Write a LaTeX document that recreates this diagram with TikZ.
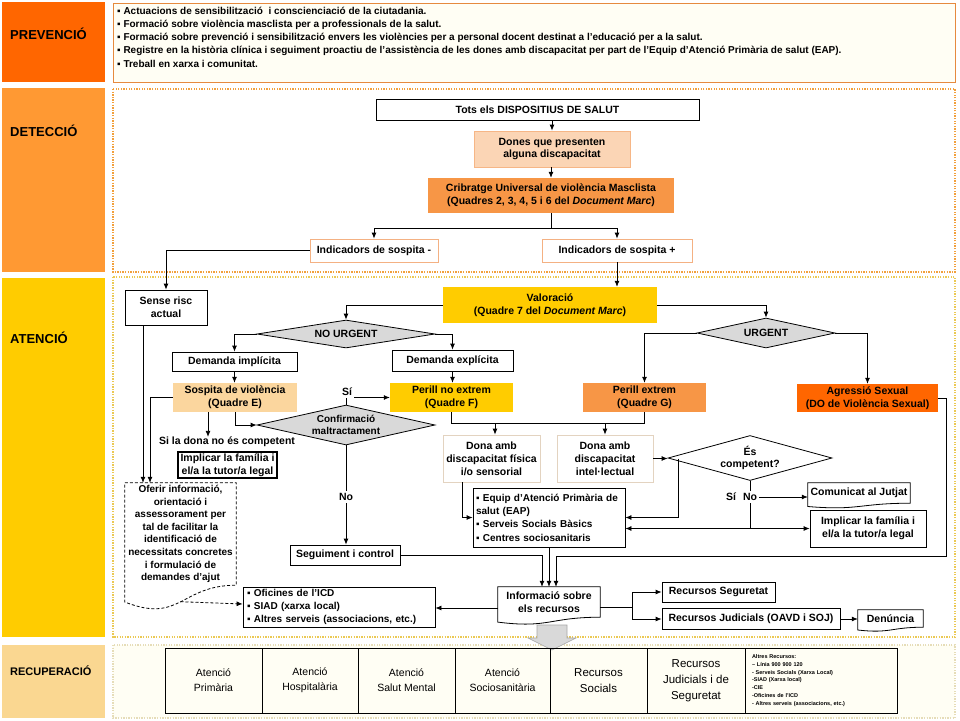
\documentclass[tikz,border=0pt]{standalone}
\usepackage{fontspec}
\setmainfont{Liberation Sans}
\usetikzlibrary{arrows.meta,shapes.geometric,calc}
\definecolor{cPrev}{HTML}{FF6600}
\definecolor{cDet}{HTML}{FF9933}
\definecolor{cAte}{HTML}{FFCC00}
\definecolor{cRec}{HTML}{FAD791}
\definecolor{cPrevB}{HTML}{E68A3E}
\definecolor{cDetB}{HTML}{F2A03C}
\definecolor{cAteB}{HTML}{EBC954}
\definecolor{cRecB}{HTML}{E6DDB8}
\definecolor{cDones}{HTML}{FBD5B5}
\definecolor{cDonesB}{HTML}{F6B686}
\definecolor{cCrib}{HTML}{F79646}
\definecolor{cInd}{HTML}{F4B183}
\definecolor{cSosp}{HTML}{FBD69E}
\definecolor{cTan}{HTML}{E3D3C0}
\definecolor{cGrey}{HTML}{D9D9D9}
\definecolor{cCream}{HTML}{FFFEF4}
\newcommand\docshp[4]{%
  \draw[#1] (#2.north west) -- (#2.north east) -- (#2.south east)
   .. controls ($(#2.south east)!0.5!(#2.south west)$) and ($(#2.south east)!0.5!(#2.south west)+(0,#4)$)
   .. ($(#2.south west)+(0,#3)$) -- cycle;}
\begin{document}
\begin{tikzpicture}[x=1pt,y=-1pt,
  every node/.style={font=\fontsize{10.5}{12.8}\selectfont\bfseries, align=center, inner sep=0pt},
  bx/.style={draw=black, line width=0.8pt, fill=white},
  ln/.style={line width=0.8pt},
  arr/.style={line width=0.8pt, -{Latex[length=6pt,width=5pt]}},
  band/.style={font=\fontsize{13}{15}\selectfont\bfseries, anchor=west},
  region/.style={line width=1.3pt, dash pattern=on 1.3pt off 1.3pt},
  dia/.style={diamond, draw=black, line width=0.8pt, fill=cGrey},
  lbl/.style={fill=white, inner sep=2pt},
  cell/.style={draw=black, line width=0.8pt, minimum height=65pt},
  cellA/.style={cell, font=\fontsize{10.5}{15}\selectfont},
  cellB/.style={cell, font=\fontsize{11.5}{16}\selectfont},
]
\useasboundingbox (0,0) rectangle (960,720);
\fill[white] (0,0) rectangle (960,720);

% ---- bands
\fill[cPrev] (2,2) rectangle (105,82);
\fill[cDet] (2,88) rectangle (105,272);
\fill[cAte] (2,278) rectangle (105,637);
\fill[cRec] (2,645) rectangle (105,718);
\node[band] (tPrev) at (10,34) {PREVENCIÓ};
\node[band] (tDet) at (10,131) {DETECCIÓ};
\node[band] (tAte) at (10,338) {ATENCIÓ};
\node[band, font=\fontsize{11}{13}\selectfont\bfseries] (tRec) at (10,671) {RECUPERACIÓ};

% ---- regions
\draw[cPrevB, line width=1pt, fill=cCream] (113,3) rectangle (955,82);
\draw[cDetB, region] (113,89) rectangle (955,272);
\draw[cAteB, region] (113,277) rectangle (955,637);
\draw[cRecB, region, fill=cCream] (113,645) rectangle (955,718);

\node[anchor=west, align=left, font=\fontsize{10}{13.3}\selectfont\bfseries] (prevtxt) at (117,37)
 {▪ Actuacions de sensibilització\ \ i conscienciació de la ciutadania.\\
  ▪ Formació sobre violència masclista per a professionals de la salut.\\
  ▪ Formació sobre prevenció i sensibilització envers les violències per a personal docent destinat a l'educació per a la salut.\\
  ▪ Registre en la història clínica i seguiment proactiu de l'assistència de les dones amb discapacitat per part de l'Equip d'Atenció Primària de salut (EAP).\\
  ▪ Treball en xarxa i comunitat.};

% ---- Detecció
\node[bx, minimum width=323pt, minimum height=21pt] (tots) at (537.5,109.5) {Tots els DISPOSITIUS DE SALUT};
\node[draw=cDonesB, fill=cDones, line width=0.8pt, minimum width=156pt, minimum height=36pt] (dones) at (552,149) {Dones que presenten\\alguna discapacitat};
\node[fill=cCrib, minimum width=246pt, minimum height=35pt] (crib) at (551,195.5) {Cribratge Universal de violència Masclista\\(Quadres 2, 3, 4, 5 i 6 del \textit{Document Marc})};
\node[draw=cInd, line width=0.8pt, fill=white, minimum width=128pt, minimum height=23pt] (indm) at (374,250.5) {Indicadors de sospita -};
\node[draw=cInd, line width=0.8pt, fill=white, minimum width=150pt, minimum height=23pt] (indp) at (617,250.5) {Indicadors de sospita +};

\draw[arr] (dones.north |- tots.south) -- (dones.north);
\draw[arr] (crib.north |- dones.south) -- (crib.north);
\coordinate (j1) at (0,228);
\draw[ln] (crib.south) -- (crib.south |- j1);
\draw[ln] (indm.north |- j1) -- (indp.north |- j1);
\draw[arr] (indm.north |- j1) -- (indm.north);
\draw[arr] (indp.north |- j1) -- (indp.north);

% ---- Atenció
\node[bx, minimum width=82pt, minimum height=35pt] (sense) at (166,307.5) {Sense risc\\actual};
\node[fill=cAte, minimum width=214pt, minimum height=36pt] (valor) at (550,305) {Valoració\\(Quadre 7 del \textit{Document Marc})};
\draw[arr] (indm.west) -| (sense.north);
\draw[arr] (indp.south) -- (indp.south |- valor.north);

\node[dia, minimum width=178pt, minimum height=28pt, aspect=6] (nourg) at (346,334) {NO URGENT};
\node[dia, minimum width=138pt, minimum height=30pt, aspect=4.6] (urg) at (766,333) {URGENT};
\draw[arr] (valor.west) -| (nourg.north);
\draw[arr] (valor.east) -| (urg.north);

\node[bx, minimum width=125pt, minimum height=19pt] (impl) at (234.5,361.5) {Demanda implícita};
\node[bx, minimum width=121pt, minimum height=21pt] (expl) at (452.5,360.5) {Demanda explícita};
\draw[arr] (nourg.west) -| (impl.north);
\draw[arr] (nourg.east) -| (expl.north);

\node[fill=cSosp, minimum width=124pt, minimum height=29pt] (sosp) at (235,397.5) {Sospita de violència\\(Quadre E)};
\node[fill=cAte, minimum width=123pt, minimum height=29pt] (pne) at (451.5,397.5) {Perill no extrem\\(Quadre F)};
\node[fill=cCrib, minimum width=123pt, minimum height=29pt] (pe) at (644.5,397.5) {Perill extrem\\(Quadre G)};
\node[fill=cPrev, minimum width=141pt, minimum height=28pt] (agr) at (867.5,398) {Agressió Sexual\\(DO de Violència Sexual)};
\draw[arr] (impl.south) -- (impl.south |- sosp.north);
\draw[arr] (expl.south) -- (expl.south |- pne.north);
\draw[arr] (urg.west) -| (pe.north);
\draw[arr] (urg.east) -| (agr.north);

\node[dia, minimum width=178pt, minimum height=40pt, aspect=4.4, font=\fontsize{10}{12}\selectfont\bfseries] (conf) at (346,425) {Confirmació\\maltractament};
\draw[arr] (conf.north) |- (pne.west);
\node[lbl] (si1) at (347,392) {Sí};

\node (sidona) at (227,442) {Si la dona no és competent};
\draw[arr] ([xshift=-27pt]sosp.south) -- ([xshift=-27pt]sosp.south |- sidona.north);
\draw[arr] (sosp.south) |- (conf.west);
\node[draw=black, line width=1.3pt, fill=white, minimum width=99pt, minimum height=26pt] (implf) at (227.5,465) {Implicar la família i\\el/a la tutor/a legal};

\node[minimum width=111pt, minimum height=102pt, font=\fontsize{10}{12.6}\selectfont\bfseries] (ofer) at (180.5,534) {Oferir informació,\\orientació i\\assessorament per\\tal de facilitar la\\identificació de\\necessitats concretes\\i formulació de\\demandes d'ajut};
\docshp{line width=0.8pt, dash pattern=on 3pt off 2pt}{ofer}{16.8}{38.8}
\coordinate (oferb) at ($(ofer.south east)!0.5!(ofer.south west)+(0,16.5)$);
\draw[arr] ([xshift=-23pt]sense.south) -- ([xshift=-23pt]sense.south |- ofer.north);
\draw[arr] (sosp.west) -| ([xshift=-30.5pt]ofer.north);

\node[bx, minimum width=110pt, minimum height=20pt] (seg) at (345,555) {Seguiment i control};
\draw[arr] (conf.south) -- (conf.south |- seg.north);
\node[lbl] (no1) at (346,497) {No};

\node[bx, text width=184pt, inner xsep=4pt, minimum height=40pt, align=left, font=\fontsize{10}{13.2}\selectfont\bfseries] (ofic) at (339,607) {▪ Oficines de l'ICD\\▪ SIAD (xarxa local)\\▪ Altres serveis (associacions, etc.)};
\draw[arr, dash pattern=on 3pt off 2pt] (oferb) -- ([yshift=3pt]ofic.west);

\node[draw=cTan, line width=0.8pt, fill=white, minimum width=97pt, minimum height=47pt] (dfis) at (491.5,458.5) {Dona amb\\discapacitat física\\i/o sensorial};
\node[draw=cTan, line width=0.8pt, fill=white, minimum width=96pt, minimum height=47pt] (dint) at (605,458.5) {Dona amb\\discapacitat\\intel·lectual};
\coordinate (j2) at (0,423);
\draw[ln] (pne.south) |- (pe.south |- j2) -- (pe.south);
\draw[arr] ([xshift=3.5pt]dfis.north |- j2) -- ([xshift=3.5pt]dfis.north);
\draw[arr] (dint.north |- j2) -- (dint.north);

\node[bx, text width=146pt, inner xsep=3pt, minimum height=59pt, align=left, font=\fontsize{10}{13.3}\selectfont\bfseries] (equip) at (549,517.5) {▪ Equip d'Atenció Primària de\\salut (EAP)\\▪ Serveis Socials Bàsics\\▪ Centres sociosanitaris};
\draw[arr] ([xshift=-29.5pt]dfis.south) |- (equip.west);

\node[diamond, draw=black, line width=0.8pt, fill=white, minimum width=164pt, minimum height=45pt, aspect=3.6] (esc) at (750,458) {És\\competent?};
\draw[arr] (dint.east) -- (dint.east -| esc.west);
\coordinate (escl) at (678,458.5);
\draw[arr] (escl) |- (equip.east);

\node[minimum width=102pt, minimum height=20pt] (comm) at (859,493) {Comunicat al Jutjat};
\docshp{line width=0.8pt}{comm}{3.3}{7.6}
\node[bx, minimum width=116pt, minimum height=37pt] (implr) at (868,528.5) {Implicar la família i\\el/a la tutor/a legal};

\draw[ln] (esc.south) -- (esc.south |- implr.west);
\draw[arr] (esc.south |- implr.west) -- (implr.west);
\draw[arr] (esc.south |- implr.west) -- (equip.east |- implr.west);
\node[lbl] (no2) at (750,497) {No};
\node (si2) at (731,497) {Sí};
\draw[arr] (no2.east) -- (no2.east -| comm.west);

% ---- Informació
\node[minimum width=102pt, minimum height=30pt] (info) at (549,602) {Informació sobre\\els recursos};
\docshp{line width=0.8pt}{info}{4.9}{11.4}
\coordinate (ar1) at (946,556);
\draw[arr] (agr.east) -| (ar1) -| ([xshift=7pt]info.north);
\draw[arr] (seg.east) -| ([xshift=-7pt]info.north);
\draw[arr] (equip.south) -- (equip.south |- info.north);
\draw[arr] ([yshift=-6pt]info.west) -- ([yshift=-6pt]info.west -| ofic.east);

\node[bx, minimum width=113pt, minimum height=20pt] (rseg) at (718.5,592) {Recursos Seguretat};
\node[bx, minimum width=178pt, minimum height=21pt] (rjud) at (751,619) {Recursos Judicials (OAVD i SOJ)};
\node[minimum width=65pt, minimum height=17pt] (den) at (890.5,618.5) {Denúncia};
\docshp{line width=0.8pt}{den}{2.8}{6.5}
\coordinate (spl) at (632,607);
\draw[ln] ([yshift=-5pt]info.east) -- (spl);
\draw[arr] (spl) |- (rseg.west);
\draw[arr] (spl) |- (rjud.west);
\draw[arr] (rjud.east) -- (rjud.east -| den.west);

% grey block arrow
\draw[fill=cGrey, draw=gray!70, line width=0.6pt] (537,625) -- (567,625) -- (567,638) -- (576,638) -- (552,650) -- (528,638) -- (537,638) -- cycle;

% ---- Recuperació table
\node[cellA, minimum width=97pt] (r1) at (213.5,680.5) {Atenció\\Primària};
\node[cellA, minimum width=96pt] (r2) at (310,680.5) {Atenció\\Hospitalària};
\node[cellA, minimum width=97pt] (r3) at (406.5,680.5) {Atenció\\Salut Mental};
\node[cellA, minimum width=95pt] (r4) at (502.5,680.5) {Atenció\\Sociosanitària};
\node[cellB, minimum width=97pt] (r5) at (598.5,680.5) {Recursos\\Socials};
\node[cellB, minimum width=98pt] (r6) at (696,680.5) {Recursos\\Judicials i de\\Seguretat};
\node[cell, text width=138pt, inner xsep=7pt, align=left, font=\fontsize{5.5}{7.9}\selectfont\bfseries] (r7) at (821,680.5)
 {Altres Recursos:\\– Línia 900 900 120\\- Serveis Socials (Xarxa Local)\\-SIAD (Xarxa local)\\-CIE\\-Oficines de l'ICD\\- Altres serveis (associacions, etc.)};
\end{tikzpicture}
\end{document}
